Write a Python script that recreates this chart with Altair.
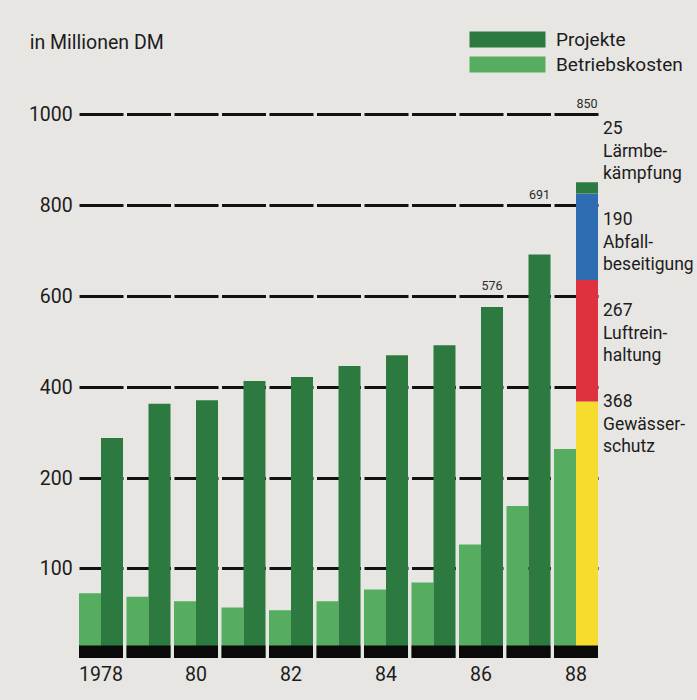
import altair as alt
import pandas as pd

# ---------------- data ----------------
years = [1978, 1979, 1980, 1981, 1982, 1983, 1984, 1985, 1986, 1987, 1988]
betriebskosten = [72, 68, 63, 56, 53, 63, 76, 84, 126, 169, 264]
projekte_years = [1978, 1979, 1980, 1981, 1982, 1983, 1984, 1985, 1986, 1987]
projekte = [288, 363, 371, 413, 422, 446, 470, 492, 576, 691]
sektor_jahr = 1988
sektoren = ["Gewässerschutz", "Luftreinhaltung", "Abfallbeseitigung", "Lärmbekämpfung"]
sektor_text = ["Gewässer-\nschutz", "Luftrein-\nhaltung", "Abfall-\nbeseitigung", "Lärmbe-\nkämpfung"]
sektor_werte = [368, 267, 190, 25]
beschriftete_jahre = [1986, 1987]
y_ticks = [100, 200, 400, 600, 800, 1000]
reihen = ["Betriebskosten", "Projekte"]

farb_domain = ["Projekte", "Betriebskosten"] + sektoren
farb_range = ["#2c7a3f", "#56ad5f", "#f6dc2c", "#e0323e", "#2f6db2", "#2d7b42"]

FONT = "Roboto"
TXT = "#1c1c1c"
BG = "#e7e6e3"

# ---------------- tables ----------------
bars_df = pd.DataFrame(
    [{"Jahr": j, "Reihe": "Betriebskosten", "Farbe": "Betriebskosten", "Wert": v}
     for j, v in zip(years, betriebskosten)]
    + [{"Jahr": j, "Reihe": "Projekte", "Farbe": "Projekte", "Wert": v}
       for j, v in zip(projekte_years, projekte)]
)
stack_df = pd.DataFrame(
    [{"Jahr": sektor_jahr, "Reihe": "Projekte", "Farbe": s, "Wert": v, "Rang": i, "Text": t}
     for i, (s, v, t) in enumerate(zip(sektoren, sektor_werte, sektor_text))]
)
summen = dict(zip(projekte_years, projekte))
labels_df = pd.DataFrame(
    [{"Jahr": j, "Reihe": "Projekte", "Wert": summen[j]} for j in beschriftete_jahre]
    + [{"Jahr": sektor_jahr, "Reihe": "Projekte", "Wert": sum(sektor_werte)}]
)
band_df = pd.DataFrame({"Jahr": years})

# ---------------- scales / axes ----------------
W, H = 522.5, 544
x_scale = alt.Scale(domain=years, paddingInner=3.5 / 47.5, paddingOuter=1.75 / 47.5)
x_axis = alt.Axis(
    title=None, ticks=False, domain=False, labelAngle=0, labelPadding=7,
    labelFont=FONT, labelFontSize=19.5, labelColor=TXT,
    labelExpr="datum.value == 1978 ? '1978' : (datum.value % 2 == 0 ? substring(toString(datum.value), 2) : '')",
)
y_scale = alt.Scale(domain=[0, 200, 1000], range=[H, H - 180, 0], nice=False, zero=False)
y_axis = alt.Axis(
    values=y_ticks, format="d", ticks=False, domain=False, labelPadding=5,
    labelFont=FONT, labelFontSize=19.5, labelColor=TXT,
    grid=True, gridColor="#111111", gridWidth=3, gridOpacity=1,
    gridDash=[44, 3.5], gridDashOffset=45.75,
    title="in Millionen DM", titleAngle=0, titleAlign="left", titleBaseline="alphabetic",
    titleX=-48, titleY=-66, titleFont=FONT, titleFontSize=19.5, titleFontWeight="normal",
    titleColor=TXT,
)
xo_scale = alt.Scale(domain=reihen, paddingInner=0, paddingOuter=0)
color_scale = alt.Scale(domain=farb_domain, range=farb_range)

X = alt.X("Jahr:O", scale=x_scale, axis=x_axis)
XO = alt.XOffset("Reihe:N", scale=xo_scale)

bars = alt.Chart(bars_df).mark_bar(stroke=None).encode(
    x=X,
    xOffset=XO,
    y=alt.Y("Wert:Q", scale=y_scale, axis=y_axis, stack=None),
    color=alt.Color(
        "Farbe:N", scale=color_scale,
        legend=alt.Legend(
            values=["Projekte", "Betriebskosten"], title=None, orient="none",
            legendX=420.75, legendY=-84,
            symbolType="M-4.75,-1H4.75V1H-4.75Z", symbolSize=256, symbolStrokeWidth=0,
            symbolOpacity=1, labelFont=FONT, labelFontSize=19, labelColor=TXT,
            labelOffset=39, rowPadding=5,
        ),
    ),
)

stack = alt.Chart(stack_df).mark_bar(stroke=None).encode(
    x=X,
    xOffset=XO,
    y=alt.Y("Wert:Q", scale=y_scale, axis=y_axis, stack="zero"),
    color=alt.Color("Farbe:N", scale=color_scale),
    order=alt.Order("Rang:Q", sort="ascending"),
)

band = alt.Chart(band_df).mark_bar(color="#0a0a0a").encode(
    x=X,
    y=alt.datum(0, scale=y_scale, axis=y_axis),
    y2=alt.datum(14),
)

summen_text = alt.Chart(labels_df).transform_calculate(
    anker="ceil(datum.Wert / 200) * 200"
).mark_text(dy=-6, baseline="alphabetic", font=FONT, fontSize=12.5, color="#2a2a2a").encode(
    x=X,
    xOffset=XO,
    y=alt.Y("anker:Q", scale=y_scale, axis=y_axis),
    text=alt.Text("Wert:Q"),
)

sektor_beschriftung = alt.Chart(stack_df).transform_calculate(
    anker="400 + 200 * datum.Rang",
    beschriftung="datum.Wert + '\\n' + datum.Text",
).mark_text(
    align="left", baseline="alphabetic", dx=16, dy=20, lineBreak="\n", lineHeight=22.5,
    font=FONT, fontSize=17.5, color=TXT,
).encode(
    x=X,
    xOffset=XO,
    y=alt.Y("anker:Q", scale=y_scale, axis=y_axis),
    text="beschriftung:N",
)

chart = alt.layer(bars, stack, band, summen_text, sektor_beschriftung).properties(
    width=W, height=H,
    padding={"left": 77.25, "top": 114, "right": 97.25, "bottom": 42},
    autosize=alt.AutoSizeParams(type="none"),
    background=BG,
).configure_view(stroke=None)

chart.save("out.html", embed_options={"renderer": "svg", "actions": False})
